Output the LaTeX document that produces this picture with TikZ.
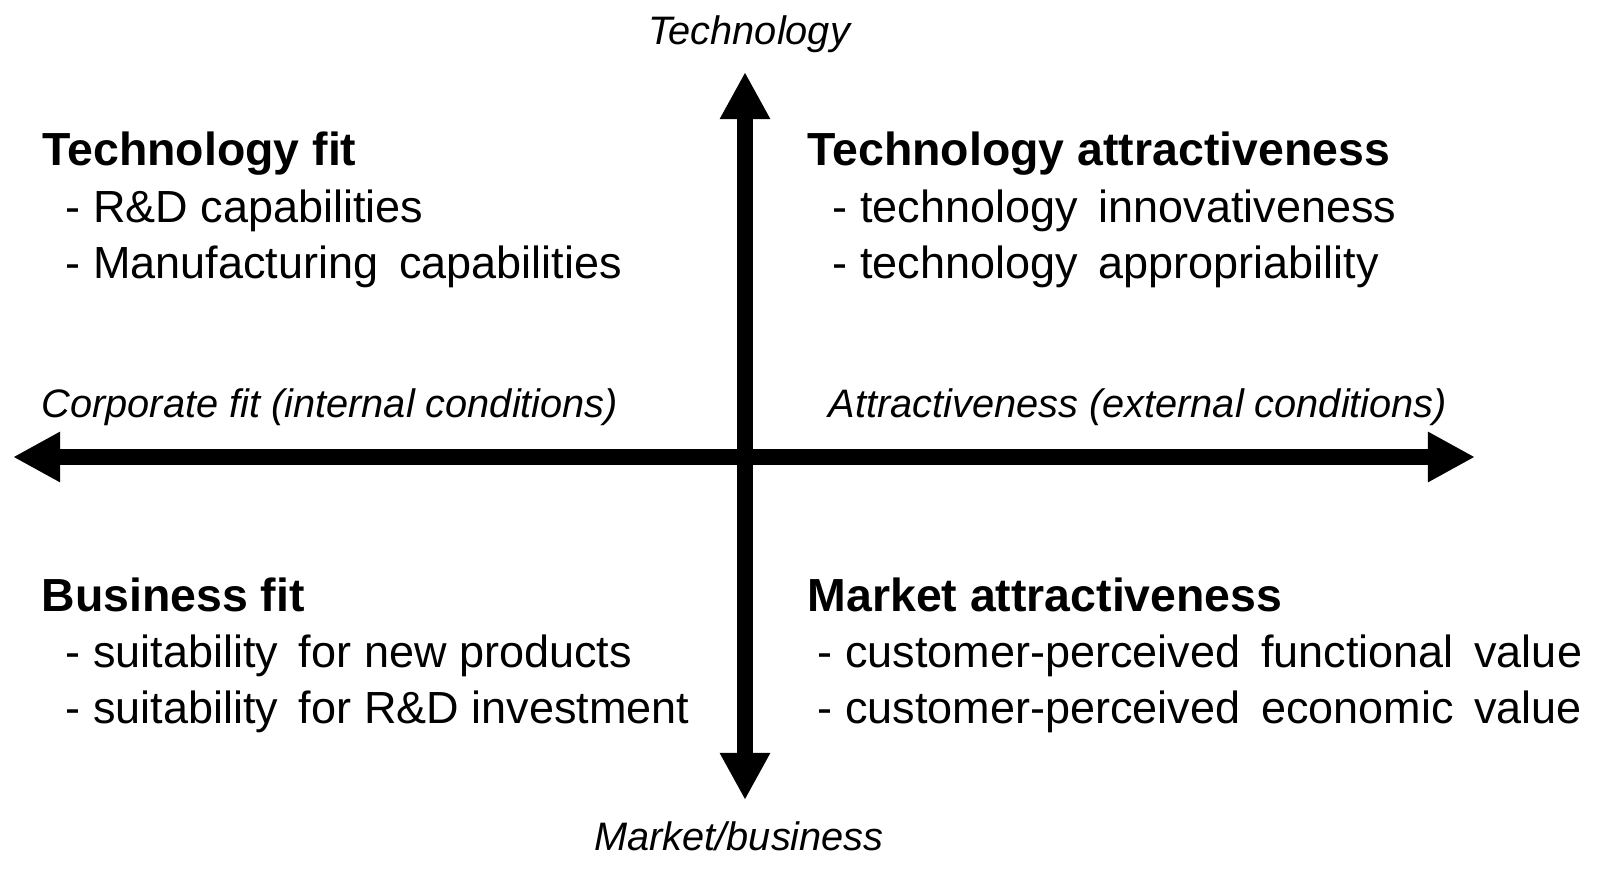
\documentclass[tikz,border=0pt]{standalone}
\usepackage{fontspec}
\setmainfont{Liberation Sans}
\usetikzlibrary{arrows.meta}
\newcommand\dblsp{\hspace{0.46em}}
\tikzset{
  axis/.style={line width=0.16cm, {Triangle[length=0.47cm,width=0.47cm]}-{Triangle[length=0.47cm,width=0.47cm]}},
  head/.style={font=\fontsize{13.2}{16}\selectfont\bfseries, anchor=base west, inner sep=0pt},
  item/.style={font=\fontsize{12.8}{16}\selectfont, anchor=base west, inner sep=0pt},
  axlabel/.style={font=\fontsize{11.3}{13}\selectfont\itshape, inner sep=0pt}
}

\begin{document}
\begin{tikzpicture}[x=0.01cm, y=-0.01cm]
			%%%%% AXES %%%%%
			\useasboundingbox (0, 0) rectangle (1600, 873);
			
			\coordinate (west) at (13, 457);
			\coordinate (east) at (1475, 457);
			\coordinate (north) at (745, 72);
			\coordinate (south) at (745, 800);
			
			\draw[axis] (west) -- (east);
			\draw[axis] (south) -- (north);
			
			\node[axlabel, anchor=base] (techaxis) at (749, 45) {Technology};
			\node[axlabel, anchor=base] (marketaxis) at (739, 850) {Market/business};
			\node[axlabel, anchor=base west] (fitaxis) at (41, 417) {Corporate fit (internal conditions)};
			\node[axlabel, anchor=base west] (attraxis) at (828, 417) {Attractiveness (external conditions)};
			
			%%%%% QUADRANTS %%%%%
			\node[head] (techfit) at (42, 166) {Technology fit};
			\node[item] (techfit1) at (65, 222) {- R\&D capabilities};
			\node[item] (techfit2) at (65, 278) {- Manufacturing\dblsp capabilities};
			
			\node[head] (techattr) at (807, 166) {Technology attractiveness};
			\node[item] (techattr1) at (832, 222) {- technology\dblsp innovativeness};
			\node[item] (techattr2) at (832, 278) {- technology\dblsp appropriability};
			
			\node[head] (busfit) at (41, 611) {Business fit};
			\node[item] (busfit1) at (65, 667) {- suitability\dblsp for new products};
			\node[item] (busfit2) at (65, 723) {- suitability\dblsp for R\&D investment};
			
			\node[head] (mktattr) at (807, 611) {Market attractiveness};
			\node[item] (mktattr1) at (817, 667) {- customer-perceived\dblsp functional\dblsp value};
			\node[item] (mktattr2) at (817, 723) {- customer-perceived\dblsp economic\dblsp value};
			
			%%%%% END %%%%%
\end{tikzpicture}
\end{document}
